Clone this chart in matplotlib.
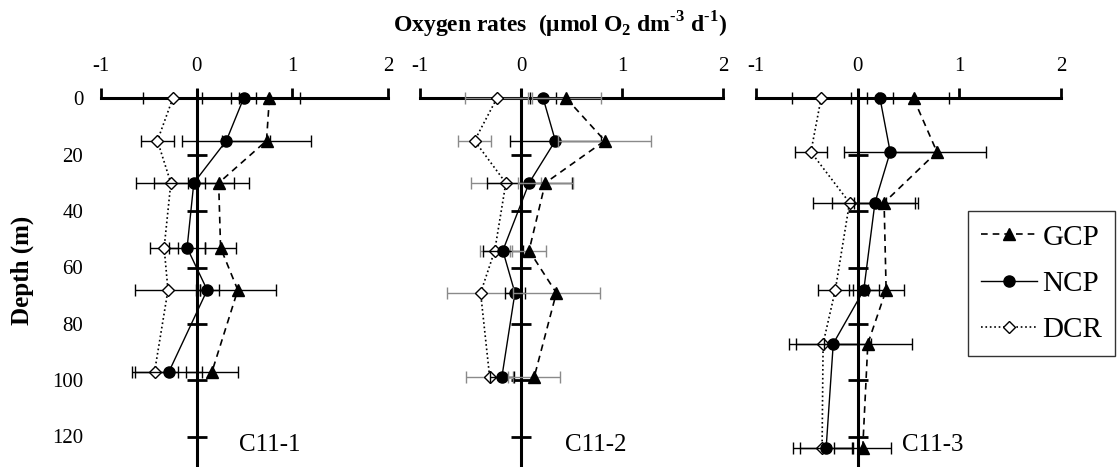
import matplotlib
matplotlib.use("Agg")
import matplotlib.pyplot as plt
from matplotlib.lines import Line2D
from matplotlib.transforms import blended_transform_factory

plt.rcParams['font.family'] = ['Liberation Serif', 'DejaVu Serif']
plt.rcParams['mathtext.fontset'] = 'custom'
plt.rcParams['mathtext.rm'] = 'Liberation Serif'
plt.rcParams['mathtext.bf'] = 'Liberation Serif:bold'

# station C11-1
depth_c1 = [0, 15, 30, 53, 68, 97]
gcp_c1 = [0.76, 0.73, 0.23, 0.25, 0.43, 0.16]
gcp_err_c1 = [0.32, 0.47, 0.32, 0.16, 0.40, 0.27]
ncp_c1 = [0.49, 0.31, -0.03, -0.10, 0.11, -0.29]
ncp_err_c1 = [0.13, 0.46, 0.42, 0.19, 0.12, 0.35]
dcr_c1 = [-0.25, -0.41, -0.27, -0.34, -0.30, -0.44]
dcr_err_c1 = [0.31, 0.17, 0.36, 0.15, 0.34, 0.24]

# station C11-2
depth_c2 = [0, 15, 30, 54, 69, 99]
gcp_c2 = [0.45, 0.83, 0.24, 0.08, 0.35, 0.13]
gcp_err_c2 = [0.34, 0.46, 0.27, 0.17, 0.43, 0.26]
ncp_c2 = [0.22, 0.34, 0.08, -0.18, -0.06, -0.19]
ncp_err_c2 = [0.13, 0.45, 0.42, 0.20, 0.10, 0.12]
dcr_c2 = [-0.24, -0.46, -0.15, -0.26, -0.40, -0.31]
dcr_err_c2 = [0.31, 0.16, 0.35, 0.15, 0.33, 0.23]

# station C11-3
depth_c3 = [0, 19, 37, 68, 87, 124]
gcp_c3 = [0.55, 0.78, 0.26, 0.28, 0.10, 0.05]
gcp_err_c3 = [0.35, 0.48, 0.30, 0.18, 0.43, 0.28]
ncp_c3 = [0.22, 0.32, 0.17, 0.06, -0.24, -0.31]
ncp_err_c3 = [0.13, 0.45, 0.42, 0.15, 0.37, 0.26]
dcr_c3 = [-0.36, -0.46, -0.08, -0.22, -0.34, -0.35]
dcr_err_c3 = [0.29, 0.16, 0.36, 0.17, 0.34, 0.29]

station_names = ['C11-1', 'C11-2', 'C11-3']
series_names = ['GCP', 'NCP', 'DCR']
x_ticks = [-1, 0, 1, 2]
depth_ticks = [0, 20, 40, 60, 80, 100, 120]

W, H = 1118, 467
# panel boxes in pixels: left, width
panel_px = [(101, 287), (420, 303), (756, 305)]
top_px = 90

# line / marker style per series
styles = {
    'GCP': dict(ls=(0, (4, 3)), lw=1.2, marker='^', ms=9, mfc='black', mec='black'),
    'NCP': dict(ls='-', lw=1, marker='o', ms=8, mfc='black', mec='black'),
    'DCR': dict(ls=':', lw=1.2, marker='D', ms=6.5, mfc='white', mec='black'),
}


def draw_panel(ax, depth, gcp, gcp_err, ncp, ncp_err, dcr, dcr_err, err_grey=False):
    grey = '#8a8a8a' if err_grey else 'black'
    ax.errorbar(dcr, depth, xerr=dcr_err, color='black', ecolor=grey, mew=1,
                elinewidth=1, capsize=4, capthick=1, zorder=3, **styles['DCR'])
    ax.errorbar(ncp, depth, xerr=ncp_err, color='black', ecolor='black',
                elinewidth=1, capsize=4, capthick=1, zorder=4, **styles['NCP'])
    ax.errorbar(gcp, depth, xerr=gcp_err, color='black', ecolor=grey,
                elinewidth=1, capsize=4, capthick=1, zorder=5, **styles['GCP'])

    ax.set_xlim(-1, 2)
    ax.set_ylim(130.8, -3.0)
    ax.spines['top'].set_position(('data', 0))
    ax.spines['left'].set_position(('data', 0))
    ax.spines['bottom'].set_visible(False)
    ax.spines['right'].set_visible(False)
    for s in ['top', 'left']:
        ax.spines[s].set_linewidth(2.2)
        ax.spines[s].set_zorder(1)

    ax.xaxis.tick_top()
    ax.set_xticks(x_ticks)
    ax.set_xticklabels([str(t) for t in x_ticks])
    ax.tick_params(axis='x', direction='out', length=7, width=2, pad=9, labelsize=15)
    ax.set_yticks(depth_ticks[1:])
    ax.tick_params(axis='y', direction='inout', length=14, width=2, labelleft=False)
    ax.patch.set_visible(False)


fig = plt.figure(figsize=(W / 100, H / 100), dpi=100)

axes = []
for left, width in panel_px:
    ax = fig.add_axes([left / W, 0, width / W, 1 - top_px / H])
    axes.append(ax)

draw_panel(axes[0], depth_c1, gcp_c1, gcp_err_c1, ncp_c1, ncp_err_c1, dcr_c1, dcr_err_c1)
draw_panel(axes[1], depth_c2, gcp_c2, gcp_err_c2, ncp_c2, ncp_err_c2, dcr_c2, dcr_err_c2, err_grey=True)
draw_panel(axes[2], depth_c3, gcp_c3, gcp_err_c3, ncp_c3, ncp_err_c3, dcr_c3, dcr_err_c3)

# depth labels sit at the far left of the first panel
trans = blended_transform_factory(axes[0].transAxes, axes[0].transData)
for d in depth_ticks:
    axes[0].text(-0.062, d + 0.8, str(d), transform=trans, ha='right', va='center', fontsize=15)

# station names
for ax, name in zip(axes, station_names):
    ax.text(0.48, 123, name, transform=blended_transform_factory(ax.transAxes, ax.transData),
            ha='left', va='center', fontsize=18)

fig.text(560 / W, 1 - 25 / H,
         r'Oxygen rates  (μmol O$_\mathbf{2}$ dm$^\mathbf{‐3}$ d$^\mathbf{‐1}$)',
         ha='center', va='center', fontsize=17, fontweight='bold')
fig.text(22 / W, 1 - 270 / H, 'Depth (m)', rotation=90, ha='center', va='center',
         fontsize=18, fontweight='bold')

# legend without error bar glyphs
handles = [Line2D([], [], color='black', mew=1, **styles[n]) for n in series_names]
leg = fig.legend(handles, series_names,
                 loc='upper left', bbox_to_anchor=(968 / W, 1 - 211 / H),
                 fontsize=21, frameon=True, fancybox=False, edgecolor='black',
                 handlelength=1.9, handletextpad=0.2, labelspacing=0.68,
                 borderpad=0.45, borderaxespad=0)
leg.get_frame().set_linewidth(1)

fig.savefig('out.png', dpi=100)
